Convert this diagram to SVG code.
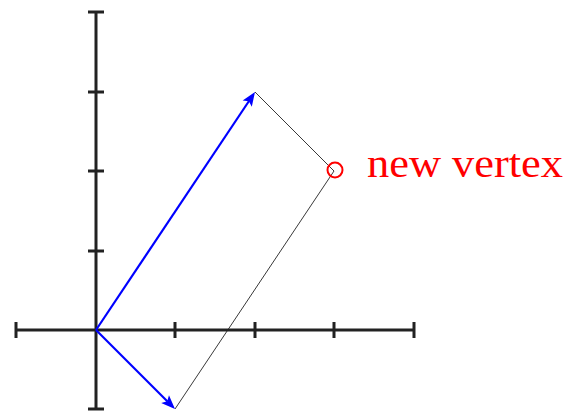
<svg xmlns="http://www.w3.org/2000/svg" width="571" height="411" viewBox="0 0 571 411">
<style>
.ax{stroke:#222;stroke-width:3;fill:none}
.vec{stroke:#0000ff;stroke-width:2.2;fill:none}
.thin{stroke:#222;stroke-width:0.9;fill:none}
.head{fill:#0000ff}
</style>
<defs>
<path id="ah" d="M0,0 L-14,-5.5 L-11,0 L-14,5.5 Z"/>
</defs>
<rect width="571" height="411" fill="#fff"/>
<g id="axes">
<line class="ax" x1="16" y1="330" x2="414" y2="330"/>
<line class="ax" x1="96" y1="12" x2="96" y2="409"/>
<path class="ax" d="M16,322V338M175,322V338M255,322V338M334,322V338M414,322V338"/>
<path class="ax" d="M88,12H104M88,92H104M88,171H104M88,251H104M88,409H104"/>
</g>
<g id="connectors">
<line class="thin" x1="255" y1="92" x2="334" y2="171"/>
<line class="thin" x1="175" y1="409" x2="334" y2="171"/>
<line class="vec" x1="96" y1="330" x2="249" y2="101"/>
<use href="#ah" class="head" transform="translate(255,92) rotate(-56.26)"/>
<line class="vec" x1="96" y1="330" x2="167.5" y2="401.5"/>
<use href="#ah" class="head" transform="translate(175,409) rotate(45)"/>
</g>
<g id="new-vertex">
<circle cx="335" cy="170" r="7.5" fill="none" stroke="#ff0000" stroke-width="2"/>
<text x="367" y="177" font-family="'Liberation Serif', serif" font-size="40" fill="#ff0000" textLength="196" lengthAdjust="spacingAndGlyphs">new vertex</text>
</g>
</svg>
